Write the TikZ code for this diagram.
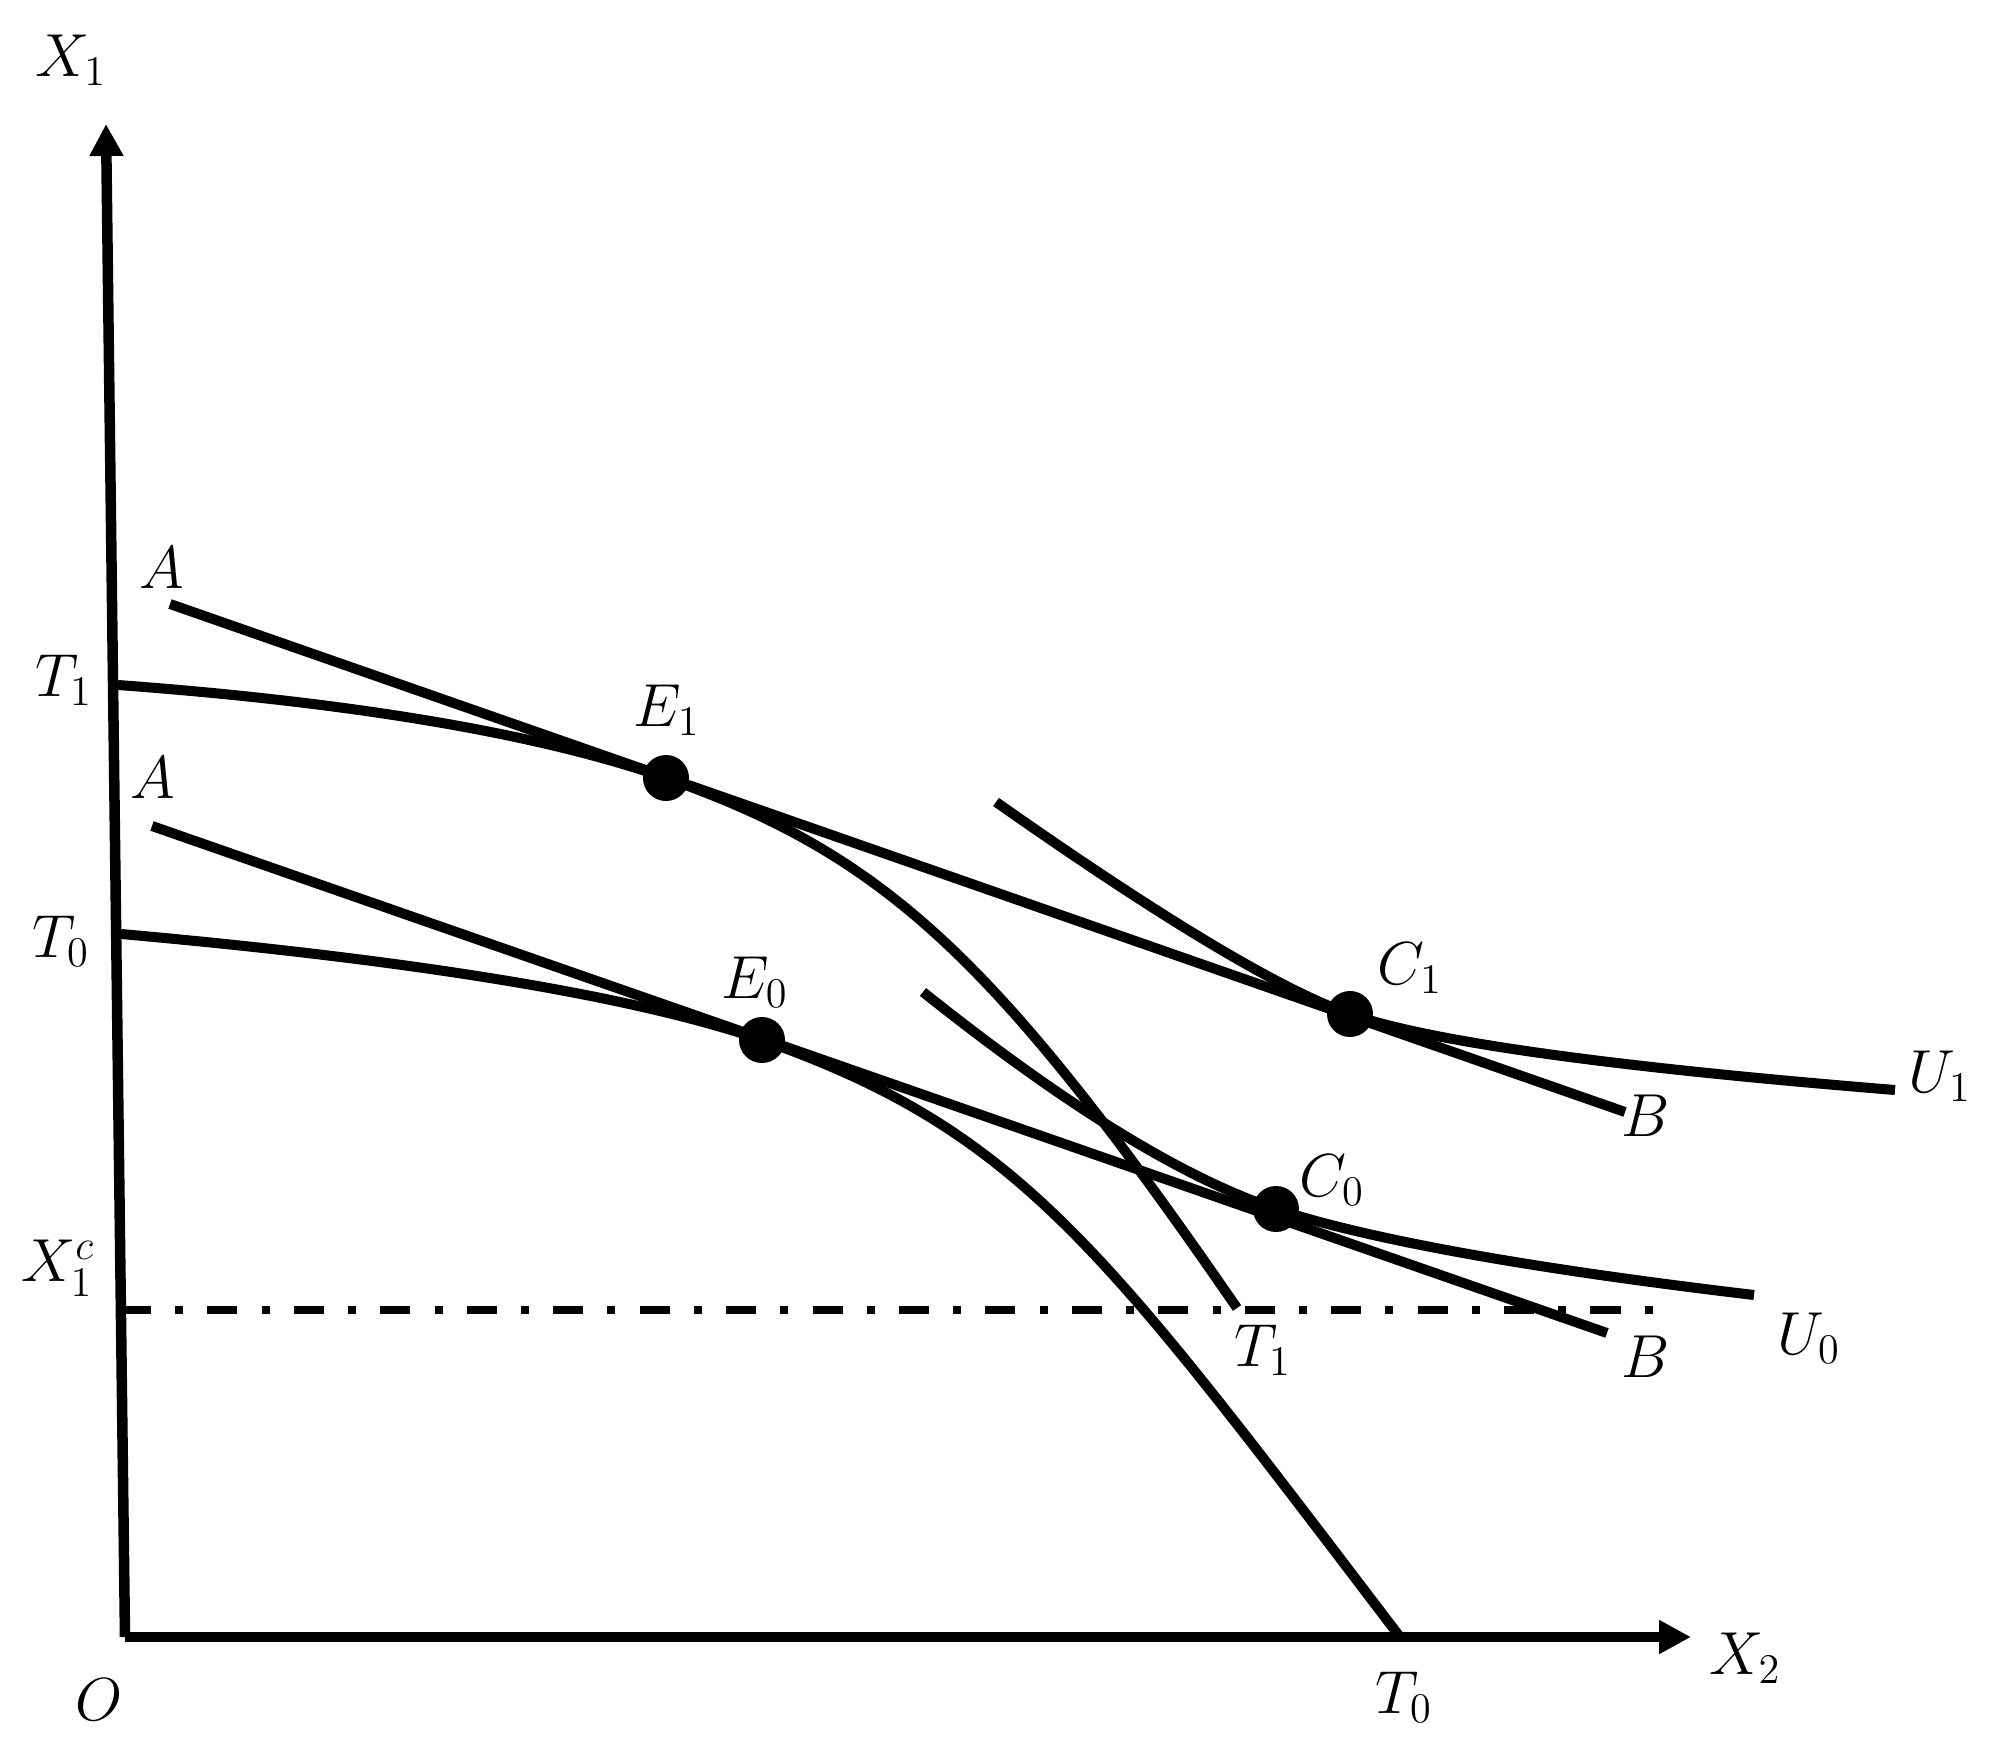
\documentclass[tikz,border=0pt]{standalone}
\usetikzlibrary{arrows.meta}
\DeclareMathSizes{17.5}{17.5}{13}{10}
\begin{document}
\begin{tikzpicture}[x=0.01cm,y=-0.01cm,
  curve/.style={line width=0.1cm, line join=round},
  axisline/.style={line width=0.105cm, -{Triangle[length=0.32cm,width=0.32cm]}},
  dashdot/.style={line width=0.085cm, dash pattern=on 8.54pt off 6.88pt on 2.28pt off 6.88pt},
  dot/.style={circle, fill=black, minimum size=0.46cm, inner sep=0pt},
  lbl/.style={inner sep=0pt, font=\fontsize{17.5}{21}\selectfont}]
\useasboundingbox (0,0) rectangle (2000,1752);

% axes
\coordinate (O) at (125,1637);
\coordinate (ytop) at (106,124);
\coordinate (xend) at (1691,1637);
\draw[axisline] (O) -- (ytop);
\draw[axisline] (O) -- (xend);

% dash-dot line X1^c
\coordinate (xcs) at (121,1310);
\coordinate (xce) at (1653,1310);
\draw[dashdot] (xcs) -- (xce);

% tangent lines A-B
\coordinate (A1) at (170,604);
\coordinate (B1) at (1625,1112);
\coordinate (A0) at (152,826);
\coordinate (B0) at (1607,1333);
\draw[curve] (A1) -- (B1);
\draw[curve] (A0) -- (B0);

% key points
\coordinate (pE1) at (666,778);
\coordinate (pE0) at (762,1040);
\coordinate (pC1) at (1350,1014);
\coordinate (pC0) at (1276,1209);

% production possibility frontiers
\coordinate (T0top) at (121,934);
\coordinate (T0bot) at (1400,1637);
\draw[curve] (T0top) .. controls (424,961) and (637,997) .. (pE0)
  .. controls (1022,1131) and (1105,1250) .. (T0bot);
\coordinate (T1top) at (118,685);
\coordinate (T1bot) at (1237,1308);
\draw[curve] (T1top) .. controls (362,703) and (545,735.5) .. (pE1)
  .. controls (886,855) and (997,960) .. (T1bot);

% indifference curves
\coordinate (U1s) at (996,802);
\coordinate (U1e) at (1895,1090);
\draw[curve] (U1s) .. controls (1164,920) and (1281,990) .. (pC1)
  .. controls (1430,1042) and (1612,1067) .. (U1e);
\coordinate (U0s) at (923,992);
\coordinate (U0e) at (1754,1295);
\draw[curve] (U0s) .. controls (1066,1106) and (1183,1178) .. (pC0)
  .. controls (1367,1239) and (1526,1268) .. (U0e);

% points
\node[dot] (E1) at (pE1) {};
\node[dot] (E0) at (pE0) {};
\node[dot] (C1) at (pC1) {};
\node[dot] (C0) at (pC0) {};

% labels
\node[lbl] (lX1) at (71,60) {$X_1$};
\node[lbl] (lX2) at (1745,1658) {$X_2$};
\node[lbl] (lO) at (99,1700) {$O$};
\node[lbl] (lT0b) at (1404,1697) {$T_0$};
\node[lbl] (lT1l) at (64,680) {$T_1$};
\node[lbl] (lT0l) at (61,941) {$T_0$};
\node[lbl] (lXc) at (58,1268) {$X_1^c$};
\node[lbl] (lA1) at (162,568) {$A$};
\node[lbl] (lA0) at (153,778) {$A$};
\node[lbl] (lE1) at (667,710) {$E_1$};
\node[lbl] (lE0) at (755,982) {$E_0$};
\node[lbl] (lC1) at (1410,968) {$C_1$};
\node[lbl] (lC0) at (1332,1180) {$C_0$};
\node[lbl] (lU1) at (1940,1076) {$U_1$};
\node[lbl] (lU0) at (1809,1338) {$U_0$};
\node[lbl] (lB1) at (1646,1116) {$B$};
\node[lbl] (lB0) at (1646,1357) {$B$};
\node[lbl] (lT1b) at (1263,1350) {$T_1$};
\end{tikzpicture}
\end{document}
